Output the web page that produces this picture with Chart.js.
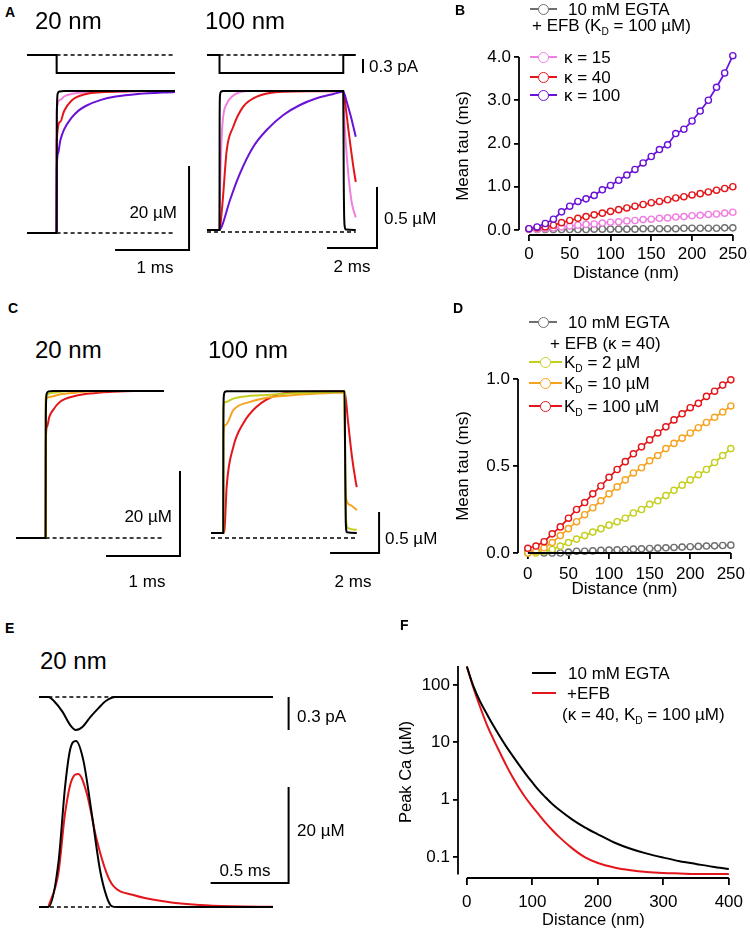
<!DOCTYPE html>
<html>
<head>
<meta charset="utf-8">
<script src="https://cdn.jsdelivr.net/npm/chart.js@4.4.1/dist/chart.umd.min.js"></script>
<style>
  body { margin: 0; background: #fff; }
  #fig { position: relative; width: 750px; height: 939px; overflow: hidden;
         font-family: "Liberation Sans", Arial, sans-serif; color: #000; }
  canvas { position: absolute; }
  .t { position: absolute; white-space: nowrap; line-height: 1; }
  .sub { font-size: 60%; position: relative; top: 0.35em; }
  .mk { position: absolute; }
</style>
</head>
<body>
<div id="fig"></div>
<script>
// ---------- data ----------
// panel A, 20 nm (time in ms, Ca in uM, current in pA)
const a20BlackT = [0, 0.4, 0.403, 0.415, 0.44, 0.5, 2.0];
const a20BlackCa = [0, 0, 28, 33.2, 33.7, 33.8, 33.8];
const a20PinkT = [0.4, 0.402, 0.45, 0.5, 0.6, 0.8, 1.0, 2.0];
const a20PinkCa = [0, 29.3, 31.7, 32.5, 33.1, 33.5, 33.7, 33.8];
const a20RedT = [0.4, 0.402, 0.45, 0.5, 0.6, 0.8, 1.0, 1.3, 2.0];
const a20RedCa = [0, 22, 26.5, 29.0, 31.5, 33.1, 33.5, 33.7, 33.8];
const a20PurpleT = [0.4, 0.402, 0.42, 0.45, 0.5, 0.6, 0.7, 0.8, 1.0, 1.2, 1.5, 2.0];
const a20PurpleCa = [0, 15, 19.0, 22.0, 24.6, 27.4, 29.2, 30.3, 31.7, 32.5, 33.1, 33.6];
const a20CurT = [0, 0.4, 0.401, 2.0];
const a20Cur = [0, 0, -0.386, -0.386];

// panel A, 100 nm
const a100BlackT = [0, 0.5, 0.505, 0.52, 0.56, 0.65, 5.45, 5.47, 5.5, 5.55, 5.95];
const a100BlackCa = [0.016, 0.016, 0.9, 1.12, 1.15, 1.156, 1.156, 0.4, 0.06, 0.02, 0.016];
const a100PinkT = [0.5, 0.52, 0.61, 0.8, 1.0, 1.3, 1.8, 5.45, 5.5, 5.6, 5.7, 5.8, 5.95];
const a100PinkCa = [0.016, 0.3, 0.863, 1.055, 1.11, 1.145, 1.156, 1.156, 0.9, 0.6, 0.38, 0.23, 0.12];
const a100RedT = [0.5, 0.52, 0.63, 0.79, 1.05, 1.45, 1.99, 3.05, 5.45, 5.55, 5.65, 5.75, 5.85, 5.95];
const a100RedCa = [0.016, 0.03, 0.262, 0.672, 0.863, 1.027, 1.109, 1.15, 1.156, 1.02, 0.85, 0.69, 0.54, 0.41];
const a100PurpleT = [0.5, 0.587, 0.92, 1.32, 1.853, 2.387, 3.053, 3.72, 4.387, 5.053, 5.45, 5.6, 5.75, 5.95];
const a100PurpleCa = [0.016, 0.044, 0.262, 0.481, 0.699, 0.836, 0.959, 1.041, 1.096, 1.131, 1.15, 1.06, 0.95, 0.78];
const a100CurT = [0, 0.5, 0.501, 5.45, 5.451, 5.95];
const a100Cur = [0, 0, -0.386, -0.386, 0, 0];

// panel B, mean tau (ms) vs distance (nm)
const distB = [0, 10, 20, 30, 40, 50, 60, 70, 80, 90, 100, 110, 120, 130, 140, 150, 160, 170, 180, 190, 200, 210, 220, 230, 240, 250];
const tauEgtaB = [0.02, 0.01, 0.01, 0.01, 0.01, 0.01, 0.01, 0.01, 0.02, 0.02, 0.02, 0.02, 0.02, 0.02, 0.03, 0.03, 0.03, 0.03, 0.03, 0.04, 0.04, 0.04, 0.04, 0.04, 0.05, 0.05];
const tauK15 = [0.02, 0.02, 0.03, 0.05, 0.07, 0.09, 0.11, 0.13, 0.14, 0.16, 0.18, 0.19, 0.21, 0.22, 0.24, 0.25, 0.27, 0.28, 0.30, 0.31, 0.33, 0.34, 0.36, 0.37, 0.39, 0.41];
const tauK40 = [0.03, 0.05, 0.07, 0.11, 0.17, 0.22, 0.27, 0.31, 0.35, 0.39, 0.43, 0.47, 0.51, 0.55, 0.59, 0.63, 0.66, 0.70, 0.74, 0.77, 0.81, 0.84, 0.88, 0.92, 0.96, 1.00];
const tauK100 = [0.03, 0.07, 0.15, 0.25, 0.42, 0.55, 0.66, 0.72, 0.80, 0.93, 1.03, 1.15, 1.27, 1.40, 1.55, 1.70, 1.86, 1.97, 2.23, 2.33, 2.52, 2.75, 3.00, 3.30, 3.63, 4.03];
const distTicks = [0, 50, 100, 150, 200, 250];
const tauTicksB = [0, 1, 2, 3, 4];

// panel C, 20 nm
const c20BlackT = [0, 0.4, 0.403, 0.415, 0.44, 0.5, 2.0];
const c20BlackCa = [0, 0, 29, 34, 34.5, 34.6, 34.6];
const c20YellowT = [0.4, 0.402, 0.5, 0.7, 2.0];
const c20YellowCa = [0, 33.2, 34.2, 34.6, 34.6];
const c20OrangeT = [0.4, 0.402, 0.45, 0.6, 0.8, 1.0, 1.3, 2.0];
const c20OrangeCa = [0, 32.5, 33.2, 33.8, 34.2, 34.5, 34.6, 34.6];
const c20RedT = [0.4, 0.402, 0.42, 0.45, 0.5, 0.6, 0.8, 1.0, 1.3, 1.6, 2.0];
const c20RedCa = [0, 22.3, 26.2, 28.5, 30.1, 32.1, 33.4, 34.0, 34.4, 34.6, 34.6];

// panel C, 100 nm
const c100BlackT = [0, 0.5, 0.505, 0.52, 0.56, 0.65, 5.45, 5.47, 5.5, 5.55, 5.95];
const c100BlackCa = [0.06, 0.06, 1.3, 1.72, 1.78, 1.79, 1.79, 1.2, 0.2, 0.07, 0.06];
const c100YellowT = [0.5, 0.502, 0.6, 0.91, 1.5, 2.28, 2.96, 4.0, 5.0, 5.45, 5.48, 5.52, 5.6, 5.95];
const c100YellowCa = [0.06, 1.6, 1.66, 1.7, 1.73, 1.744, 1.76, 1.775, 1.78, 1.785, 0.6, 0.2, 0.12, 0.1];
const c100OrangeT = [0.5, 0.502, 0.6, 0.91, 1.6, 2.28, 3.64, 5.0, 5.45, 5.48, 5.52, 5.7, 5.95];
const c100OrangeCa = [0.06, 1.256, 1.38, 1.56, 1.66, 1.71, 1.75, 1.77, 1.775, 0.7, 0.47, 0.4, 0.34];
const c100RedT = [0.5, 0.55, 0.64, 0.91, 1.32, 1.86, 2.68, 3.64, 5.45, 5.6, 5.75, 5.9, 5.95];
const c100RedCa = [0.06, 0.1, 0.63, 1.11, 1.40, 1.6, 1.744, 1.78, 1.79, 1.4, 1.0, 0.7, 0.62];

// panel D, mean tau (ms) vs distance (nm)
const tauEgtaD = [0.01, 0.005, 0, 0, 0, 0.005, 0.01, 0.01, 0.012, 0.015, 0.017, 0.018, 0.02, 0.022, 0.024, 0.026, 0.028, 0.03, 0.032, 0.034, 0.036, 0.038, 0.04, 0.041, 0.043, 0.045];
const tauKd2 = [0, 0, 0.01, 0.02, 0.04, 0.06, 0.08, 0.10, 0.12, 0.14, 0.16, 0.18, 0.20, 0.23, 0.25, 0.28, 0.30, 0.33, 0.36, 0.39, 0.42, 0.45, 0.48, 0.52, 0.56, 0.60];
const tauKd10 = [0, 0.01, 0.03, 0.06, 0.10, 0.14, 0.18, 0.22, 0.26, 0.30, 0.34, 0.38, 0.42, 0.46, 0.49, 0.53, 0.56, 0.60, 0.63, 0.66, 0.69, 0.72, 0.75, 0.78, 0.81, 0.845];
const tauKd100 = [0.027, 0.04, 0.065, 0.11, 0.15, 0.20, 0.25, 0.29, 0.34, 0.385, 0.435, 0.48, 0.525, 0.57, 0.61, 0.65, 0.69, 0.725, 0.765, 0.80, 0.835, 0.86, 0.90, 0.93, 0.965, 0.995];
const tauTicksD = [0, 0.5, 1];

// panel E, 20 nm, brief AP-like current
const eCurT = [0, 0.06, 0.1, 0.15, 0.2, 0.237, 0.28, 0.33, 0.38, 0.43, 0.49, 1.5];
const eCur = [0, 0, -0.043, -0.133, -0.255, -0.3, -0.27, -0.18, -0.103, -0.034, 0, 0];
const eBlackT = [0, 0.06, 0.124, 0.167, 0.199, 0.237, 0.284, 0.338, 0.391, 0.434, 0.465, 0.5, 1.5];
const eBlackCa = [0, 0, 9.1, 25, 32.7, 34.6, 30.6, 19.5, 7.7, 2.1, 0.2, 0, 0];
const eRedT = [0.06, 0.124, 0.167, 0.21, 0.252, 0.306, 0.37, 0.434, 0.476, 0.605, 0.818, 1.03, 1.24, 1.5];
const eRedCa = [0, 7.0, 19.5, 26.5, 27.7, 23.7, 14, 7, 4.4, 2.5, 1.1, 0.42, 0.15, 0.05];

// panel F, peak Ca (uM) vs distance (nm)
const distF = [0, 10, 20, 30, 40, 50, 60, 70, 80, 90, 100, 110, 120, 130, 140, 160, 180, 200, 225, 250, 275, 300, 325, 350, 375, 400];
const peakEgta = [209, 95, 52, 32, 20, 12.9, 8.5, 5.8, 4.0, 2.8, 2.0, 1.45, 1.1, 0.85, 0.68, 0.46, 0.33, 0.25, 0.18, 0.14, 0.115, 0.098, 0.085, 0.076, 0.068, 0.062];
const peakEfb = [209, 89, 42, 21, 11.7, 6.8, 4.0, 2.45, 1.58, 1.07, 0.76, 0.55, 0.4, 0.3, 0.23, 0.145, 0.1, 0.079, 0.066, 0.059, 0.055, 0.053, 0.052, 0.051, 0.051, 0.051];
const distTicksF = [0, 100, 200, 300, 400];
const peakTicks = [0.1, 1, 10, 100];

// ---------- colours ----------
const GREY = "#707070", PINK = "#f07fe0", RED = "#e3161b", PURPLE = "#6a11d8",
      ORANGE = "#f5a31f", YELLOW = "#c4cf1f", BLACK = "#000";

// ---------- helpers ----------
const fig = document.getElementById("fig");
Chart.defaults.font.family = '"Liberation Sans", Arial, sans-serif';
Chart.defaults.color = "#000";

function makeCanvas(box) {
  const c = document.createElement("canvas");
  c.width = box[2];
  c.height = box[3];
  c.style.left = box[0] + "px";
  c.style.top = box[1] + "px";
  c.style.width = box[2] + "px";
  c.style.height = box[3] + "px";
  fig.appendChild(c);
  return c;
}

function trace(ts, vs, color, extra) {
  return Object.assign({
    data: ts.map((t, i) => ({ x: t, y: vs[i] })),
    borderColor: color, borderWidth: 2, pointRadius: 0,
    cubicInterpolationMode: "monotone", fill: false, clip: false, yAxisID: "y",
  }, extra || {});
}

function straight(ts, vs, axis, extra) {
  return trace(ts, vs, BLACK, Object.assign({
    cubicInterpolationMode: "default", tension: 0, yAxisID: axis || "y",
    borderJoinStyle: "miter",
  }, extra || {}));
}

function dashed(t1, t2, axis) {
  return straight([t1, t2], [0, 0], axis, { borderWidth: 1.6, borderDash: [4, 3] });
}

// scale bar: corner at (t, v), horizontal arm dt to the left, vertical arm dv up
function scaleBar(t, v, dt, dv, axis) {
  const ts = dt ? [t - dt, t, t] : [t, t];
  const vs = dt ? [v, v, v + dv] : [v, v + dv];
  return straight(ts, vs, axis);
}

function traceChart(g, datasets) {
  const [left, top, w, h] = g.box;
  const scales = {
    x: { type: "linear", display: false, min: (left - g.x0) / g.xs, max: (left + w - g.x0) / g.xs },
    y: { type: "linear", display: false, min: (g.y0 - top - h) / g.ys, max: (g.y0 - top) / g.ys },
  };
  if (g.i0 !== undefined) {
    scales.yI = { type: "linear", display: false, min: (g.i0 - top - h) / g.is, max: (g.i0 - top) / g.is };
  }
  new Chart(makeCanvas(g.box), {
    type: "line",
    data: { datasets },
    options: {
      animation: false, responsive: false, devicePixelRatio: 1,
      layout: { padding: 0 },
      plugins: { legend: { display: false }, tooltip: { enabled: false } },
      scales,
    },
  });
}

// axis lines that stop at the first and last value (detached corner)
const detachedAxes = {
  id: "detachedAxes",
  afterDraw(chart, args, o) {
    const { ctx, chartArea, scales } = chart;
    ctx.save();
    ctx.strokeStyle = "#000";
    ctx.lineWidth = 1.8;
    ctx.beginPath();
    ctx.moveTo(scales.x.getPixelForValue(o.x[0]), chartArea.bottom);
    ctx.lineTo(scales.x.getPixelForValue(o.x[1]), chartArea.bottom);
    ctx.moveTo(chartArea.left, scales.y.getPixelForValue(o.y[0]));
    ctx.lineTo(chartArea.left, scales.y.getPixelForValue(o.y[1]));
    ctx.stroke();
    ctx.restore();
  },
};

function plotChart(c) {
  const tickFont = { size: 17 };
  const tickGrid = (len) => ({
    display: true, drawOnChartArea: false, drawTicks: true, tickLength: len,
    color: "#000", lineWidth: 1.8,
  });
  new Chart(makeCanvas(c.box), {
    type: "line",
    data: { datasets: c.datasets },
    plugins: [detachedAxes],
    options: {
      animation: false, responsive: false, devicePixelRatio: 1,
      layout: { padding: { left: 0, top: c.top, right: c.right, bottom: 0 } },
      plugins: {
        legend: { display: false }, tooltip: { enabled: false },
        detachedAxes: { x: c.xLine, y: c.yLine },
      },
      scales: {
        x: {
          type: "linear", min: c.xMin, max: c.xMax,
          afterFit: (s) => { s.height = c.xHeight; },
          afterBuildTicks: (s) => { s.ticks = c.xTicks.map((v) => ({ value: v })); },
          grid: tickGrid(c.xTickLen || 6),
          border: { display: false },
          ticks: { font: tickFont, padding: c.xPad, maxRotation: 0, autoSkip: false, callback: (v) => String(v) },
          title: { display: true, text: "Distance (nm)", font: { size: c.titleSize }, padding: { top: 0, bottom: c.xTitlePad } },
        },
        y: {
          type: c.yType || "linear", min: c.yMin, max: c.yMax,
          afterFit: (s) => { s.width = c.yWidth; },
          afterBuildTicks: (s) => { s.ticks = c.yTicks.map((v) => ({ value: v })); },
          grid: tickGrid(5),
          border: { display: false },
          ticks: { font: tickFont, padding: 3, autoSkip: false, callback: c.yFmt },
          title: { display: true, text: c.yTitle, font: { size: c.titleSize }, padding: { top: c.yTitlePad, bottom: 0 } },
        },
      },
    },
  });
}

function tauSet(xs, vals, color) {
  return {
    data: xs.map((d, i) => ({ x: d, y: vals[i] })),
    borderColor: color, borderWidth: 1.7, tension: 0, clip: false,
    pointRadius: 3.1, pointBorderWidth: 1.4, pointBackgroundColor: "#fff", pointBorderColor: color,
  };
}

function label(html, x, y, opt) {
  opt = opt || {};
  const d = document.createElement("div");
  d.className = "t";
  d.innerHTML = html;
  d.style.left = x + "px";
  d.style.top = y + "px";
  d.style.fontSize = (opt.size || 17) + "px";
  if (opt.bold) d.style.fontWeight = "bold";
  const ax = opt.align === "center" ? "-50%" : opt.align === "right" ? "-100%" : "0";
  d.style.transform = "translate(" + ax + ",-50%)";
  fig.appendChild(d);
}

function legendMark(x1, x2, y, color, circle) {
  const l = document.createElement("div");
  l.className = "mk";
  Object.assign(l.style, { left: x1 + "px", top: (y - 1) + "px", width: (x2 - x1) + "px", height: "2px", background: color });
  fig.appendChild(l);
  if (circle) {
    const c = document.createElement("div");
    c.className = "mk";
    const r = 4.5;
    Object.assign(c.style, {
      left: ((x1 + x2) / 2 - r - 0.75) + "px", top: (y - r - 0.75) + "px",
      width: (2 * r) + "px", height: (2 * r) + "px", borderRadius: "50%",
      border: "1.5px solid " + color, background: "#fff",
    });
    fig.appendChild(c);
  }
}

// ---------- panel A ----------
traceChart({ box: [0, 30, 200, 262], x0: 27, xs: 74, y0: 233, ys: 4.2, i0: 55, is: 46.7 }, [
  trace(a20BlackT, a20BlackCa, BLACK),
  trace(a20PurpleT, a20PurpleCa, PURPLE),
  trace(a20RedT, a20RedCa, RED),
  trace(a20PinkT, a20PinkCa, PINK),
  straight(a20CurT, a20Cur, "yI"),
  dashed(0.4, 2.0, "yI"),
  dashed(0.4, 2.0, "y"),
  scaleBar(2.19, -4.05, 1, 20, "y"),
]);
traceChart({ box: [195, 30, 200, 262], x0: 207, xs: 25, y0: 232, ys: 122, i0: 55, is: 46.7 }, [
  trace(a100BlackT, a100BlackCa, BLACK),
  trace(a100PurpleT, a100PurpleCa, PURPLE),
  trace(a100RedT, a100RedCa, RED),
  trace(a100PinkT, a100PinkCa, PINK),
  straight(a100CurT, a100Cur, "yI"),
  dashed(0.5, 5.45, "yI"),
  dashed(0, 5.95, "y"),
  scaleBar(6.8, -0.131, 2, 0.5, "y"),
  scaleBar(6.24, -0.386, 0, 0.3, "yI"),
]);

// ---------- panel B ----------
plotChart({
  box: [440, 0, 310, 290], top: 57, right: 16, yWidth: 79, xHeight: 55,
  xMin: -12.2, xMax: 250, yMin: -0.1156, yMax: 4,
  xLine: [0, 250], yLine: [0, 4], xTicks: distTicks, yTicks: tauTicksB,
  xPad: 3, xTitlePad: 6, yTitlePad: 13, titleSize: 17,
  yTitle: "Mean tau (ms)", yFmt: (v) => v.toFixed(1),
  datasets: [
    tauSet(distB, tauK100, PURPLE),
    tauSet(distB, tauK40, RED),
    tauSet(distB, tauK15, PINK),
    tauSet(distB, tauEgtaB, GREY),
  ],
});

// ---------- panel C ----------
traceChart({ box: [0, 370, 200, 200], x0: 16, xs: 74, y0: 538, ys: 4.25 }, [
  trace(c20BlackT, c20BlackCa, BLACK),
  trace(c20YellowT, c20YellowCa, YELLOW),
  trace(c20OrangeT, c20OrangeCa, ORANGE),
  trace(c20RedT, c20RedCa, RED),
  dashed(0.4, 2.0, "y"),
  scaleBar(2.216, -4.24, 1, 20, "y"),
]);
traceChart({ box: [195, 370, 200, 200], x0: 211, xs: 24.5, y0: 538, ys: 82 }, [
  trace(c100BlackT, c100BlackCa, BLACK),
  trace(c100YellowT, c100YellowCa, YELLOW),
  trace(c100OrangeT, c100OrangeCa, ORANGE),
  trace(c100RedT, c100RedCa, RED),
  dashed(0, 5.95, "y"),
  scaleBar(6.86, -0.183, 2, 0.5, "y"),
]);

// ---------- panel D ----------
plotChart({
  box: [440, 300, 310, 310], top: 79, right: 16, yWidth: 78, xHeight: 57,
  xMin: -12.1, xMax: 250, yMin: 0, yMax: 1,
  xLine: [0, 250], yLine: [0, 1], xTicks: distTicks, yTicks: tauTicksD,
  xPad: 5, xTitlePad: 10, yTitlePad: 13, titleSize: 17,
  yTitle: "Mean tau (ms)", yFmt: (v) => v.toFixed(1),
  datasets: [
    tauSet(distB, tauKd100, RED),
    tauSet(distB, tauKd10, ORANGE),
    tauSet(distB, tauKd2, YELLOW),
    tauSet(distB, tauEgtaD, GREY),
  ],
});

// ---------- panel E ----------
traceChart({ box: [0, 680, 320, 240], x0: 39, xs: 156, y0: 907, ys: 4.8, i0: 697, is: 110 }, [
  trace(eBlackT, eBlackCa, BLACK),
  trace(eRedT, eRedCa, RED),
  trace(eCurT, eCur, BLACK, { yAxisID: "yI" }),
  dashed(0.06, 0.49, "yI"),
  dashed(0.07, 0.47, "y"),
  scaleBar(1.6, 5.0, 0.5, 20, "y"),
  scaleBar(1.6, -0.3, 0, 0.3, "yI"),
]);

// ---------- panel F ----------
plotChart({
  box: [380, 640, 370, 299], top: 26, right: 17, yWidth: 78, xHeight: 61,
  xMin: -13.5, xMax: 400, yType: "logarithmic", yMin: 0.0433, yMax: 213,
  xLine: [0, 400], yLine: [0.05, 213], xTicks: distTicksF, yTicks: peakTicks,
  xTickLen: 7, xPad: 7, xTitlePad: 9, yTitlePad: 17, titleSize: 16.5,
  yTitle: "Peak Ca (\u00b5M)", yFmt: (v) => String(v),
  datasets: [
    trace(distF, peakEgta, BLACK),
    trace(distF, peakEfb, RED),
  ],
});

// ---------- text ----------
const mu = "\u00b5";
label("A", 5, 12, { size: 14, bold: true });
label("20 nm", 35, 21, { size: 24 });
label("100 nm", 205, 21, { size: 24 });
label("0.3 pA", 369, 66);
label("20 " + mu + "M", 177, 212, { align: "right" });
label("1 ms", 155, 267, { align: "center" });
label("0.5 " + mu + "M", 384, 218);
label("2 ms", 352, 266, { align: "center" });

label("B", 455, 10, { size: 14, bold: true });
legendMark(530, 557, 9, GREY, true);
label("10 mM EGTA", 568, 9);
label('+ EFB (K<span class="sub">D</span> = 100 ' + mu + "M)", 532, 25);
legendMark(530, 557, 57, PINK, true);
label("\u03ba = 15", 564, 57);
legendMark(530, 557, 77, RED, true);
label("\u03ba = 40", 564, 77);
legendMark(530, 557, 95, PURPLE, true);
label("\u03ba = 100", 564, 95);

label("C", 8, 308, { size: 14, bold: true });
label("20 nm", 35, 350, { size: 24 });
label("100 nm", 208, 350, { size: 24 });
label("20 " + mu + "M", 172, 516, { align: "right" });
label("1 ms", 147, 581, { align: "center" });
label("0.5 " + mu + "M", 385, 538);
label("2 ms", 353, 581, { align: "center" });

label("D", 453, 308, { size: 14, bold: true });
legendMark(529, 557, 322, GREY, true);
label("10 mM EGTA", 568, 322);
label("+ EFB (\u03ba = 40)", 550, 343);
legendMark(529, 562, 362, YELLOW, true);
label('K<span class="sub">D</span> = 2 ' + mu + "M", 564, 362);
legendMark(529, 562, 383, ORANGE, true);
label('K<span class="sub">D</span> = 10 ' + mu + "M", 564, 383);
legendMark(529, 562, 406, RED, true);
label('K<span class="sub">D</span> = 100 ' + mu + "M", 564, 406);

label("E", 5, 628, { size: 14, bold: true });
label("20 nm", 40, 661, { size: 24 });
label("0.3 pA", 297, 716);
label("20 " + mu + "M", 297, 830);
label("0.5 ms", 245, 870, { align: "center" });

label("F", 400, 625, { size: 14, bold: true });
legendMark(532, 556, 673, BLACK, false);
label("10 mM EGTA", 568, 673);
legendMark(532, 556, 693, RED, false);
label("+EFB", 567, 693);
label('(\u03ba = 40, K<span class="sub">D</span> = 100 ' + mu + "M)", 562, 714);
</script>
</body>
</html>
